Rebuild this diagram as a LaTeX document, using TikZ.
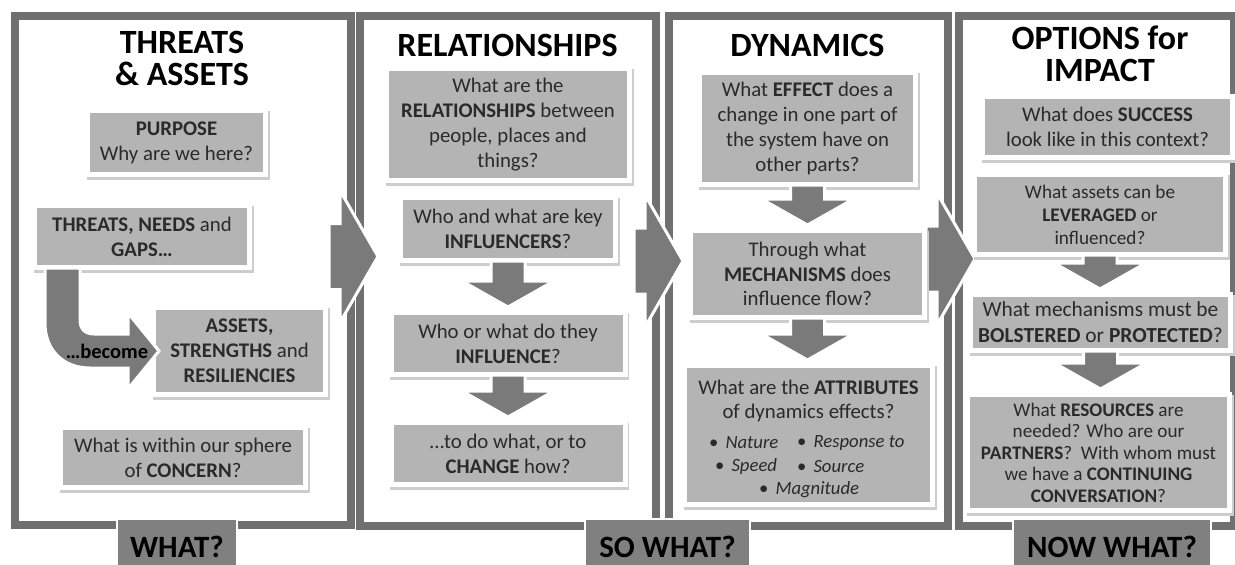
\documentclass[tikz,border=0pt]{standalone}
\usepackage{fontspec}
\setmainfont{Carlito}
\usetikzlibrary{calc}
\definecolor{framegray}{HTML}{707070}
\definecolor{boxgray}{HTML}{B4B4B4}
\definecolor{arrowgray}{HTML}{7A7A7A}
\definecolor{labelgray}{HTML}{808080}
\definecolor{shadowgray}{HTML}{CDCDCD}
\definecolor{bodytext}{HTML}{2A2A2A}

% block arrow pointing down from one box to the next
\newcommand\flowdown[2]{%
  \path[blockarrow] let \p1=(#1.south), \p2=(#2.north) in
    (\x1-17pt,\y1-3pt) -- (\x1+17pt,\y1-3pt) -- (\x1+17pt,\y2+34pt)
    -- (\x1+46pt,\y2+34pt) -- (\x1,\y2+8pt) -- (\x1-46pt,\y2+34pt)
    -- (\x1-17pt,\y2+34pt) -- cycle;}

% big chevron arrow leaving a column frame to the right
\newcommand\chevron[2]{%
  \path[blockarrow] let \p1=(#1.east) in
    (\x1-22pt,\y1+#2pt+33pt) -- (\x1-11pt,\y1+#2pt+33pt)
    -- (\x1-11pt,\y1+#2pt+66pt) -- (\x1+27pt,\y1+#2pt)
    -- (\x1-11pt,\y1+#2pt-66pt) -- (\x1-11pt,\y1+#2pt-33pt)
    -- (\x1-22pt,\y1+#2pt-33pt) -- cycle;}

\begin{document}
\begin{tikzpicture}[x=1pt,y=-1pt,
  colframe/.style={draw=framegray,line width=7.5pt,inner sep=0pt,outer sep=0pt},
  blockarrow/.style={fill=arrowgray,draw=white,line width=3pt,line join=miter},
  qbox/.style={fill=boxgray,inner sep=0pt,outer sep=0pt,align=center,text=bodytext,
    font=\fontsize{20.8}{24.8}\selectfont,
    preaction={draw=shadowgray,fill=shadowgray,line width=10pt,
      transform canvas={shift={(1.5pt,-2.5pt)}}},
    preaction={draw=white,line width=10pt}},
  coltitle/.style={align=center,text=black,inner sep=0pt,
    font=\fontsize{34}{32}\selectfont\bfseries},
  bullet/.style={anchor=west,inner sep=0pt,text=bodytext,
    font=\fontsize{18.7}{20}\selectfont},
  stage/.style={fill=labelgray,draw=white,line width=2.5pt,inner sep=0pt,
    text=black,font=\fontsize{31}{32}\selectfont\bfseries}]

\useasboundingbox (0,0) rectangle (1235,565);
\fill[white] (0,0) rectangle (1235,565);

% column frames
\node[colframe,minimum width=336,minimum height=509] (f1) at (183,270.5) {};
\node[colframe,minimum width=296,minimum height=510] (f2) at (508,271) {};
\node[colframe,minimum width=279,minimum height=510] (f3) at (808.5,271) {};
\node[colframe,minimum width=275,minimum height=510] (f4) at (1096.5,271) {};

% chevrons between columns
\chevron{f1}{14}
\chevron{f2}{10}
\chevron{f3}{12}

% column titles
\node[coltitle] (t1) at (182,58) {THREATS\\\& ASSETS};
\node[coltitle] (t2) at (507.5,45) {RELATIONSHIPS};
\node[coltitle] (t3) at (807.5,45) {DYNAMICS};
\node[coltitle] (t4) at (1100,53.5) {OPTIONS for\\IMPACT};

% threats & assets
\node[qbox,minimum width=173,minimum height=59] (p1) at (176.5,142.5)
  {\textbf{PURPOSE}\\Why are we here?};
\node[qbox,minimum width=210,minimum height=57] (p2) at (142,236.5)
  {\textbf{THREATS, NEEDS} and\\\textbf{GAPS…}};
\node[qbox,minimum width=167,minimum height=82] (p3) at (239.5,351)
  {\textbf{ASSETS,}\\\textbf{STRENGTHS} and\\\textbf{RESILIENCIES}};
\node[qbox,minimum width=240,minimum height=55] (p4) at (183,457.5)
  {What is within our sphere\\of \textbf{CONCERN}?};

% relationships
\node[qbox,minimum width=238,minimum height=107] (r1) at (508,124.5)
  {What are the\\\textbf{RELATIONSHIPS} between\\people, places and\\things?};
\node[qbox,minimum width=210,minimum height=58] (r2) at (508,229)
  {Who and what are key\\\textbf{INFLUENCERS}?};
\node[qbox,minimum width=229,minimum height=57] (r3) at (508,343.5)
  {Who or what do they\\\textbf{INFLUENCE}?};
\node[qbox,minimum width=229,minimum height=57] (r4) at (508,453.5)
  {…to do what, or to\\\textbf{CHANGE} how?};

% dynamics
\node[qbox,minimum width=211,minimum height=107] (d1) at (807.5,128.5)
  {What \textbf{EFFECT} does a\\change in one part of\\the system have on\\other parts?};
\node[qbox,minimum width=229,minimum height=82] (d2) at (807.5,274)
  {Through what\\\textbf{MECHANISMS} does\\influence flow?};
\node[qbox,minimum width=243,minimum height=134] (d3) at (808.5,435) {};
\node[align=center,inner sep=0pt,text=bodytext,font=\fontsize{20.8}{24.8}\selectfont]
  (d3q) at (808.5,401) {What are the \textbf{ATTRIBUTES}\\of dynamics effects?};
\node[bullet] (b1) at (709,443) {•\hspace{7pt}\textit{Nature}};
\node[bullet] (b2) at (797,443) {•\hspace{7pt}\textit{Response to}};
\node[bullet] (b3) at (715,467) {•\hspace{7pt}\textit{Speed}};
\node[bullet] (b4) at (797,467) {•\hspace{7pt}\textit{Source}};
\node[bullet] (b5) at (759,490) {•\hspace{7pt}\textit{Magnitude}};

% options for impact
\node[qbox,minimum width=245,minimum height=56] (o1) at (1107.5,127)
  {What does \textbf{SUCCESS}\\look like in this context?};
\node[qbox,minimum width=246,minimum height=75,font=\fontsize{19.2}{23}\selectfont]
  (o2) at (1100,214.5)
  {What assets can be\\\textbf{LEVERAGED} or\\influenced?};
\node[qbox,minimum width=255,minimum height=51,font=\fontsize{21.4}{26}\selectfont]
  (o3) at (1100.5,322.5)
  {What mechanisms must be\\\textbf{BOLSTERED} or \textbf{PROTECTED}?};
\node[qbox,minimum width=257,minimum height=111,font=\fontsize{19.2}{21.5}\selectfont]
  (o4) at (1098.5,452.5)
  {What \textbf{RESOURCES} are\\needed? Who are our\\\textbf{PARTNERS}?\ \ With whom must\\we have a \textbf{CONTINUING}\\\textbf{CONVERSATION}?};

% downward flow arrows
\flowdown{r2}{r3}
\flowdown{r3}{r4}
\flowdown{d1}{d2}
\flowdown{d2}{d3}
\flowdown{o2}{o3}
\flowdown{o3}{o4}

% threats turn into assets
\path[blockarrow] (45,268) -- (45,323) .. controls (45,350) and (63,368) .. (90,368)
  -- (128,368) -- (128,389) -- (159,351) -- (128,313) -- (128,334) -- (94,334)
  .. controls (85,334) and (80,329) .. (80,320) -- (80,268) -- cycle;
\node[inner sep=0pt,text=black,font=\fontsize{20.5}{21}\selectfont\bfseries]
  (become) at (107,351) {…become};

% stage labels
\node[stage,minimum width=120,minimum height=56] (w1) at (177,547) {WHAT?};
\node[stage,minimum width=165,minimum height=56] (w2) at (667.5,547) {SO WHAT?};
\node[stage,minimum width=198,minimum height=56] (w3) at (1112,547) {NOW WHAT?};
\end{tikzpicture}
\end{document}
